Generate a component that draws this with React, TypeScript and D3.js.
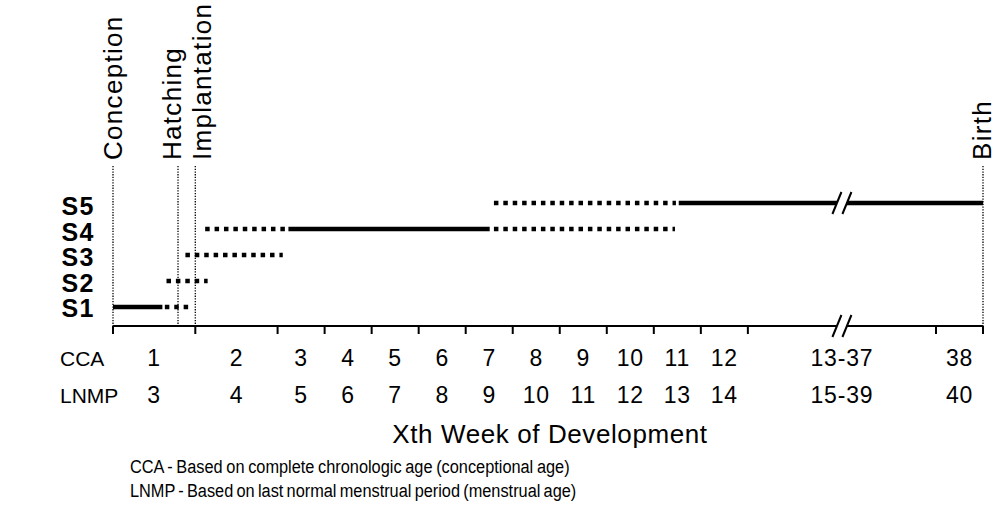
import React, { useEffect } from "react";
import * as d3 from "d3";

// ---------- data ----------
const stages = ["S1", "S2", "S3", "S4", "S5"];
// week boundaries (CCA weeks) at which the axis has ticks
const weekBounds = [0, 1, 2, 3, 4, 5, 6, 7, 8, 9, 10, 11, 12, 37, 38];
const ccaLabels = ["1", "2", "3", "4", "5", "6", "7", "8", "9", "10", "11", "12", "13-37", "38"];
const lnmpLabels = ["3", "4", "5", "6", "7", "8", "9", "10", "11", "12", "13", "14", "15-39", "40"];
const eventNames = ["Conception", "Hatching", "Implantation", "Birth"];
const eventWeeks = [0, 0.79, 1.0, 38];

type Seg = { from: number; to: number; kind: "solid" | "dotted" };
const s1Segments: Seg[] = [
  { from: 0, to: 0.6, kind: "solid" },
  { from: 0.63, to: 0.94, kind: "dotted" },
];
const s2Segments: Seg[] = [{ from: 0.65, to: 1.15, kind: "dotted" }];
const s3Segments: Seg[] = [{ from: 0.88, to: 2.11, kind: "dotted" }];
const s4Segments: Seg[] = [
  { from: 1.12, to: 2.23, kind: "dotted" },
  { from: 2.23, to: 6.51, kind: "solid" },
  { from: 6.6, to: 10.45, kind: "dotted" },
];
const s5Segments: Seg[] = [
  { from: 6.6, to: 10.47, kind: "dotted" },
  { from: 10.53, to: 38, kind: "solid" },
];
const stageSegments = [s1Segments, s2Segments, s3Segments, s4Segments, s5Segments];

// ---------- layout ----------
const W = 997;
const H = 514;
const X0 = 113;
const X1 = 983;
const intervalUnits = [1.75, 1.75, 1, 1, 1, 1, 1, 1, 1, 1, 1, 1, 4, 1];
const AXIS_Y = 326;
const eventLabelDx = [9, 3, 16, 8];
const FONT = "'Liberation Sans', Arial, Helvetica, sans-serif";

export default function App() {
  useEffect(() => {
    document.body.style.margin = "0";
  }, []);

  const totalUnits = d3.sum(intervalUnits);
  const cum = [0, ...d3.cumsum(intervalUnits)];
  const x = d3
    .scaleLinear()
    .domain(weekBounds)
    .range(cum.map((c) => X0 + (c / totalUnits) * (X1 - X0)));

  const y = d3.scalePoint<string>().domain(stages).range([307, 203]);
  const yLabel = d3.scalePoint<string>().domain(stages).range([308, 206]);

  const xBreak = (x(12) + x(37)) / 2;

  const breakMark = (cy: number, key: string) => {
    const sx = 4.5;
    const sy = 11;
    const gap = 5;
    const pts: [number, number][] = [
      [xBreak - gap - sx, cy + sy],
      [xBreak - gap + sx, cy - sy],
      [xBreak + gap + sx, cy - sy],
      [xBreak + gap - sx, cy + sy],
    ];
    return (
      <g key={key}>
        <polygon points={pts.map((p) => p.join(",")).join(" ")} fill="#fff" />
        <line x1={pts[0][0]} y1={pts[0][1]} x2={pts[1][0]} y2={pts[1][1]} stroke="#000" strokeWidth={2} />
        <line x1={pts[3][0]} y1={pts[3][1]} x2={pts[2][0]} y2={pts[2][1]} stroke="#000" strokeWidth={2} />
      </g>
    );
  };

  return (
    <svg width={W} height={H} style={{ display: "block", background: "#fff" }}>
      {/* event guide lines */}
      {eventWeeks.map((w, i) => (
        <line
          key={"ev" + i}
          x1={x(w)}
          x2={x(w)}
          y1={166}
          y2={i === 3 ? 332 : AXIS_Y}
          stroke="#000"
          strokeWidth={1.3}
          strokeDasharray="1.3 1.4"
        />
      ))}
      {eventNames.map((n, i) => (
        <text
          key={"evl" + i}
          transform={`translate(${x(eventWeeks[i]) + eventLabelDx[i]},160) rotate(-90)`}
          fontFamily={FONT}
          fontSize={26}
          letterSpacing={1.3}
          fill="#000"
        >
          {n}
        </text>
      ))}

      {/* stage segments */}
      {stageSegments.map((segs, si) =>
        segs.map((s, j) => (
          <line
            key={`s${si}-${j}`}
            x1={x(s.from)}
            x2={x(s.to)}
            y1={y(stages[si])!}
            y2={y(stages[si])!}
            stroke="#000"
            strokeWidth={4.5}
            strokeDasharray={s.kind === "dotted" ? "4.5 4.9" : undefined}
          />
        ))
      )}

      {/* stage labels */}
      {stages.map((s) => (
        <text
          key={"lab" + s}
          x={95}
          y={yLabel(s)!}
          dy="0.36em"
          textAnchor="end"
          fontFamily={FONT}
          fontWeight="bold"
          fontSize={25}
          letterSpacing={1.5}
          fill="#000"
        >
          {s}
        </text>
      ))}

      {/* axis */}
      <line x1={X0} x2={X1} y1={AXIS_Y} y2={AXIS_Y} stroke="#000" strokeWidth={2} />
      {weekBounds.map((w, i) => (
        <line key={"t" + i} x1={x(w)} x2={x(w)} y1={AXIS_Y} y2={AXIS_Y + 8} stroke="#000" strokeWidth={2} />
      ))}
      {breakMark(y("S5")!, "b1")}
      {breakMark(AXIS_Y, "b2")}

      {/* tick labels */}
      <text x={60} y={366} fontFamily={FONT} fontSize={21} fill="#000">CCA</text>
      <text x={60} y={403} fontFamily={FONT} fontSize={21} fill="#000">LNMP</text>
      {ccaLabels.map((l, i) => (
        <text
          key={"c" + i}
          x={(x(weekBounds[i]) + x(weekBounds[i + 1])) / 2}
          y={366}
          textAnchor="middle"
          fontFamily={FONT}
          fontSize={23}
          letterSpacing={0.8}
          fill="#000"
        >
          {l}
        </text>
      ))}
      {lnmpLabels.map((l, i) => (
        <text
          key={"l" + i}
          x={(x(weekBounds[i]) + x(weekBounds[i + 1])) / 2}
          y={403}
          textAnchor="middle"
          fontFamily={FONT}
          fontSize={23}
          letterSpacing={0.8}
          fill="#000"
        >
          {l}
        </text>
      ))}

      {/* axis title */}
      <text x={550} y={443} textAnchor="middle" fontFamily={FONT} fontSize={26} letterSpacing={0.6} fill="#000">
        Xth Week of Development
      </text>

      {/* footnotes */}
      <text transform="translate(130,473) scale(0.86,1)" fontFamily={FONT} fontSize={19} wordSpacing={-1} fill="#000">
        CCA - Based on complete chronologic age (conceptional age)
      </text>
      <text transform="translate(130,497) scale(0.86,1)" fontFamily={FONT} fontSize={19} wordSpacing={-1.5} fill="#000">
        LNMP - Based on last normal menstrual period (menstrual age)
      </text>
    </svg>
  );
}
